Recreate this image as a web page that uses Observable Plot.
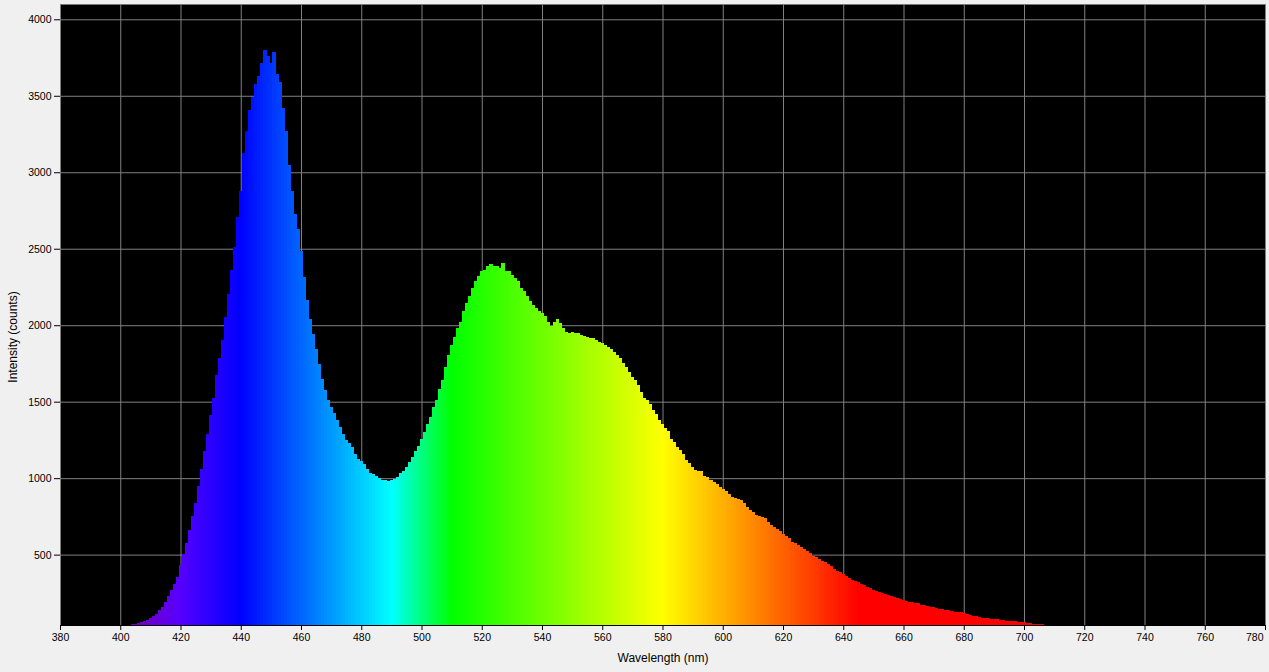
<!DOCTYPE html>
<html><head><meta charset="utf-8">
<script src="https://cdn.jsdelivr.net/npm/d3@7"></script>
<script src="https://cdn.jsdelivr.net/npm/@observablehq/plot@0.6"></script>
<style>
html,body{margin:0;padding:0;background:#f0f0f0;}
#chart{width:1269px;height:672px;}
</style></head><body><div id="chart"></div>
<script>
// first wavelength (nm) of the sampled spectrum, 1 nm steps
const startNm = 404;
const intensity = [
  45,48,54,59,66,74,86,98,113,135,160,192,229,266,307,357,
  430,504,578,664,750,836,947,1058,1180,1291,1414,1525,1672,1783,1906,2054,2201,2361,2509,2705,
  2877,3123,3271,3406,3492,3579,3628,3714,3800,3763,3714,3789,3640,3591,3419,3271,3050,2877,2730,2632,
  2484,2312,2164,2041,1943,1845,1746,1648,1574,1513,1463,1426,1377,1335,1289,1250,1230,1202,1158,1125,
  1110,1092,1059,1037,1026,1015,1004,987,987,982,987,993,1009,1031,1048,1075,1103,1136,1180,1213,
  1257,1300,1355,1399,1465,1509,1586,1640,1728,1805,1871,1925,1980,2024,2090,2145,2189,2243,2287,2320,
  2353,2364,2386,2397,2386,2386,2375,2408,2353,2353,2331,2309,2287,2243,2221,2189,2156,2134,2112,2090,
  2079,2057,2024,1996,2024,2039,2013,1980,1958,1952,1958,1952,1947,1936,1930,1921,1914,1914,1904,1893,
  1882,1871,1855,1842,1827,1805,1783,1750,1728,1695,1662,1640,1607,1563,1526,1509,1487,1448,1417,1382,
  1356,1328,1308,1258,1236,1203,1186,1155,1120,1100,1076,1055,1046,1046,1017,1007,991,978,963,941,
  930,913,897,880,869,862,854,838,810,793,777,762,755,749,740,712,697,679,668,653,
  635,624,607,585,574,565,548,537,522,509,493,483,472,461,450,439,428,406,395,384,
  373,362,347,334,330,319,308,303,290,282,269,260,253,249,242,236,231,220,216,210,
  203,194,192,188,183,181,172,168,162,159,155,149,144,142,138,135,131,127,124,122,
  118,111,107,100,98,94,89,85,83,81,79,76,74,70,68,65,63,63,61,59,
  57,52,50,48,46,46,44,41,41,39,39,40,40,39,40
];
const xTicks = [380,400,420,440,460,480,500,520,540,560,580,600,620,640,660,680,700,720,740,760,780];
const yTicks = [500,1000,1500,2000,2500,3000,3500,4000];
const xLabel = "Wavelength (nm)";
const yLabel = "Intensity (counts)";

function wlColor(w) {
  let r, g, b;
  if (w < 440) { r = -(w - 440) / 60; g = 0; b = 1; }
  else if (w < 490) { r = 0; g = (w - 440) / 50; b = 1; }
  else if (w < 510) { r = 0; g = 1; b = -(w - 510) / 20; }
  else if (w < 580) { r = (w - 510) / 70; g = 1; b = 0; }
  else if (w < 645) { r = 1; g = -(w - 645) / 65; b = 0; }
  else { r = 1; g = 0; b = 0; }
  let f = 1;
  if (w < 420) f = 0.3 + 0.7 * (w - 380) / 40;
  else if (w > 700) f = 0.3 + 0.7 * (780 - w) / 80;
  const c = v => Math.round(255 * Math.max(0, Math.min(1, v * f)));
  return `rgb(${c(r)},${c(g)},${c(b)})`;
}

const data = intensity.map((v, i) => ({w: startNm + i, v}));
const lastTick = xTicks[xTicks.length - 1];

const plot = Plot.plot({
  width: 1269, height: 672,
  marginLeft: 60, marginRight: 4, marginTop: 4, marginBottom: 47,
  style: {background: "#f0f0f0", fontFamily: "'Liberation Sans', Arial, sans-serif", fontSize: "10.5px", color: "black"},
  x: {domain: [380, 780]},
  y: {domain: [40, 4100]},
  color: {type: "identity"},
  marks: [
    Plot.frame({fill: "black", stroke: null}),
    Plot.gridX(xTicks, {stroke: "#808080", strokeOpacity: 1}),
    Plot.gridY(yTicks, {stroke: "#808080", strokeOpacity: 1}),
    Plot.rect(data, {x1: d => d.w - 0.5, x2: d => d.w + 0.6, y1: 0, y2: "v", fill: d => wlColor(d.w), clip: true, shapeRendering: "crispEdges"}),
    Plot.axisX(xTicks, {tickSize: 5, tickPadding: 3, tickFormat: d => d === lastTick ? "" : String(d), label: null, stroke: "black"}),
    Plot.text([lastTick], {x: d => d, text: d => String(d), frameAnchor: "bottom", dy: 8, lineAnchor: "top", textAnchor: "end", dx: -2}),
    Plot.axisY(yTicks, {tickSize: 6, tickPadding: 3, tickFormat: d => String(d), label: null, stroke: "black"}),
    Plot.ruleY([40], {stroke: "black"}),
    Plot.text([xLabel], {frameAnchor: "bottom", dy: 33, fontSize: 12, lineAnchor: "middle", textAnchor: "middle"}),
    Plot.text([yLabel], {frameAnchor: "left", dx: -47, dy: 22, rotate: -90, fontSize: 12, lineAnchor: "middle", textAnchor: "middle"})
  ]
});
document.getElementById("chart").appendChild(plot);
</script>
</body></html>
